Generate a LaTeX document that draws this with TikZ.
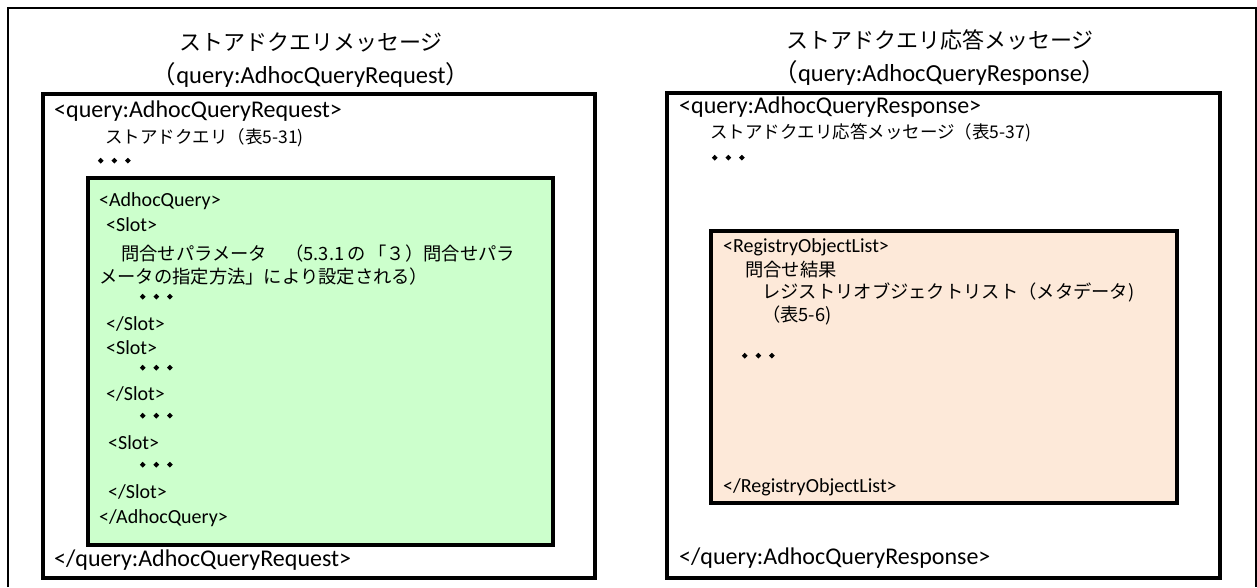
\documentclass[tikz,border=0pt]{standalone}
\usepackage{fontspec}
\setmainfont{Carlito}
\newfontfamily\jp{Noto Sans CJK JP}
\newfontfamily\jpdots[FakeBold=9,LetterSpace=-20]{Noto Sans CJK JP}
\usetikzlibrary{positioning}
\definecolor{querygreen}{RGB}{204,255,204}
\definecolor{resultpeach}{RGB}{253,233,217}
\newcommand{\tagfont}{\fontsize{24}{28}\selectfont}
\newcommand{\subtagfont}{\fontsize{20}{24}\selectfont}
\newcommand{\jpfont}{\jp\fontsize{17.5}{21}\selectfont}
\newcommand{\jpinner}{\jp\fontsize{18.3}{22}\selectfont}
\newcommand{\ellipsisrow}[2]{
  \node[txt,font=\jpdots\fontsize{17}{19}\selectfont] (#1) at (#2) {・・・};
}
\tikzset{
  frame/.style={draw,line width=1.3pt},
  msgbox/.style={draw,line width=3.4pt},
  txt/.style={anchor=west,inner sep=0pt},
  titletext/.style={inner sep=0pt,font=\jp\fontsize{22}{26}\selectfont},
  titletag/.style={inner sep=0pt,font=\fontsize{24.5}{28}\selectfont}
}

\begin{document}
\begin{tikzpicture}[x=1pt,y=-1pt]
  \useasboundingbox (0,0) rectangle (1257,587);
  \draw[frame] (8,587) -- (8,8) -- (1256,8) -- (1256,587);

  % request side
  \draw[msgbox] (43,94) rectangle (595,578);
  \draw[msgbox,fill=querygreen] (88,178) rectangle (553,545);
  \node[titletext] (reqtitle) at (311,42) {ストアドクエリメッセージ};
  \node[titletag] (reqname) at (311,75) {{\jp （}query:AdhocQueryRequest{\jp ）}};
  \node[txt,font=\tagfont] (reqopen) at (54,111) {<query:AdhocQueryRequest>};
  \node[txt,font=\jpfont] (reqdesc) at (105,138) {ストアドクエリ（表5-31)};
  \ellipsisrow{reqdots}{92,163}
  \node[txt,font=\subtagfont] (aqopen) at (99,201) {<AdhocQuery>};
  \node[txt,font=\subtagfont] (slotaopen) at (106,225) {<Slot>};
  \node[txt,font=\jpinner] (paramone) at (121,254) {問合せパラメータ　（5.3.1\,の\,「３）問合せパラ};
  \node[txt,font=\jpinner] (paramtwo) at (99,277) {メータの指定方法」により設定される）};
  \ellipsisrow{slotadots}{134,299}
  \node[txt,font=\subtagfont] (slotaclose) at (106,324) {</Slot>};
  \node[txt,font=\subtagfont] (slotbopen) at (106,348) {<Slot>};
  \ellipsisrow{slotbdots}{134,370}
  \node[txt,font=\subtagfont] (slotbclose) at (106,394) {</Slot>};
  \ellipsisrow{betweendots}{134,418}
  \node[txt,font=\subtagfont] (slotcopen) at (108,443) {<Slot>};
  \ellipsisrow{slotcdots}{134,467}
  \node[txt,font=\subtagfont] (slotcclose) at (108,492) {</Slot>};
  \node[txt,font=\subtagfont] (aqclose) at (99,518) {</AdhocQuery>};
  \node[txt,font=\tagfont] (reqclose) at (54,560) {</query:AdhocQueryRequest>};

  % response side
  \draw[msgbox] (667,93) rectangle (1220,578);
  \draw[msgbox,fill=resultpeach] (711,231) rectangle (1177,503);
  \node[titletext] (restitle) at (940,40) {ストアドクエリ応答メッセージ};
  \node[titletag] (resname) at (940,73) {{\jp （}query:AdhocQueryResponse{\jp ）}};
  \node[txt,font=\tagfont] (resopen) at (679,107) {<query:AdhocQueryResponse>};
  \node[txt,font=\jpfont] (resdesc) at (710,133) {ストアドクエリ応答メッセージ（表5-37)};
  \ellipsisrow{resdots}{706,160}
  \node[txt,font=\subtagfont] (rolopen) at (723,247) {<RegistryObjectList>};
  \node[txt,font=\jpinner] (result) at (745,270) {問合せ結果};
  \node[txt,font=\jpinner] (rolname) at (762,292) {レジストリオブジェクトリスト（メタデータ)};
  \node[txt,font=\jpinner] (roltable) at (762,315) {（表5-6)};
  \ellipsisrow{roldots}{736,358}
  \node[txt,font=\subtagfont] (rolclose) at (723,487) {</RegistryObjectList>};
  \node[txt,font=\tagfont] (resclose) at (679,558) {</query:AdhocQueryResponse>};
\end{tikzpicture}
\end{document}
